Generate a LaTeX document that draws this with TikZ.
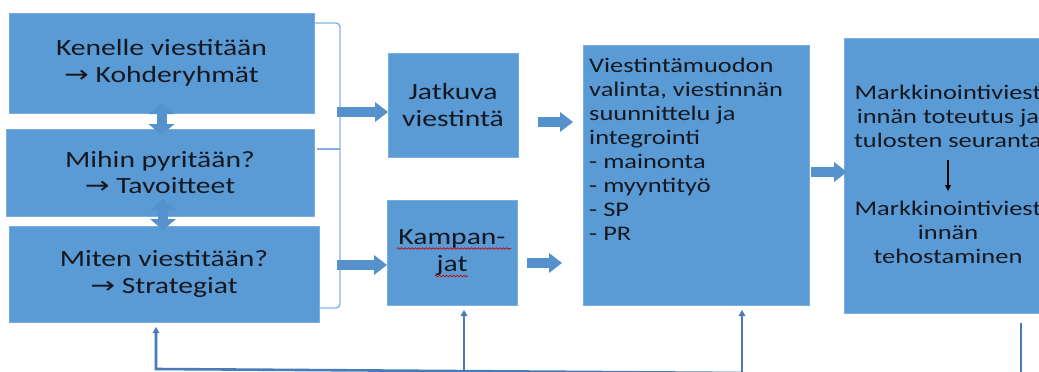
\documentclass[tikz,border=0pt]{standalone}
\usepackage{fontspec}
\setmainfont{Carlito}[FakeStretch=1.27]
\newfontfamily\arrfont{DejaVu Sans}[FakeStretch=1.27]
\usepackage{tikz}
\usetikzlibrary{arrows.meta,decorations.pathmorphing,positioning}
\definecolor{boxblue}{RGB}{91,155,213}
\definecolor{boxedge}{RGB}{122,174,224}
\definecolor{arrowblue}{RGB}{84,145,205}
\definecolor{bracketblue}{RGB}{132,177,226}
\definecolor{feedblue}{RGB}{72,123,186}
\definecolor{inktext}{RGB}{20,24,32}
\newcommand{\bigtxt}{\fontsize{23.3}{26.5}\selectfont}
\newcommand{\smalltxt}{\fontsize{20.8}{24}\selectfont}
\newcommand{\arr}{{\arrfont →}}
\tikzstyle{bluebox} = [draw=boxedge, fill=boxblue, line width=0.8pt, rectangle,
    inner sep=0pt, outer sep=0pt, align=center, text=inktext, font=\bigtxt]
\tikzstyle{boxtext} = [inner sep=0pt, text=inktext, font=\smalltxt]
\tikzstyle{blockarrow} = [draw=arrowblue, line width=10pt,
    -{Triangle[width=20pt,length=13pt,line width=0pt]}]
\tikzstyle{dblarrow} = [draw=arrowblue, line width=10pt,
    {Triangle[width=26pt,length=11pt,line width=0pt]}-{Triangle[width=26pt,length=11pt,line width=0pt]}]
\tikzstyle{bracket} = [draw=bracketblue, line width=1.3pt]
\tikzstyle{feedline} = [draw=feedblue, line width=2.6pt]
\tikzstyle{feedarrow} = [feedline, -{Triangle[width=7pt,length=6pt,line width=0pt]}]
\tikzstyle{squiggle} = [draw=red!80!black, line width=0.7pt, decorate,
    decoration={snake, amplitude=0.8pt, segment length=3.5pt}]

\begin{document}
\begin{tikzpicture}[x=1pt, y=-1pt]
                \useasboundingbox (0,0) rectangle (1039,372);
                \clip (0,0) rectangle (1039,372);
                \fill[white] (0,0) rectangle (1039,372);

                \node[bluebox, minimum width=305pt, minimum height=100pt] (ken) at (161.5,63) {Kenelle viestitään\\\arr\ Kohderyhmät};
                \node[bluebox, minimum width=308pt, minimum height=87pt] (mih) at (160,172.5) {Mihin pyritään?\\\arr\ Tavoitteet};
                \node[bluebox, minimum width=310pt, minimum height=96pt] (mit) at (164,274) {Miten viestitään?\\\arr\ Strategiat};
                \node[bluebox, minimum width=130pt, minimum height=104pt] (jat) at (453,105) {Jatkuva\\viestintä};
                \node[bluebox, minimum width=130pt, minimum height=105pt] (kam) at (452,252.5) {Kampan-\\jat};
                \node[bluebox, minimum width=226pt, minimum height=260pt] (vie) at (696,175) {};
                \node[bluebox, minimum width=208pt, minimum height=275pt] (mar) at (948,175.5) {};

                \node[boxtext, anchor=north west, align=left] (vietxt) at ([xshift=6pt,yshift=-13pt]vie.north west)
                    {Viestintämuodon\\valinta, viestinnän\\suunnittelu ja\\integrointi\\- mainonta\\- myyntityö\\- SP\\- PR};
                \node[boxtext, align=center] (mtop) at ([yshift=59.5pt]mar.center) {Markkinointiviest\\innän toteutus ja\\tulosten seuranta};
                \node[boxtext, align=center] (mbot) at ([yshift=-57pt]mar.center) {Markkinointiviest\\innän\\tehostaminen};
                \draw[line width=1.1pt, -{Triangle[width=6pt,length=6pt,line width=0pt]}, shorten <=13pt, shorten >=10pt] (mtop) -- (mbot);

                \draw[squiggle] ([xshift=-55pt,yshift=4pt]kam.center) -- ++(114,0);
                \draw[squiggle] ([xshift=-17pt,yshift=-23.5pt]kam.center) -- ++(33,0);

                \coordinate (brk) at (340,149);
                \draw[bracket, rounded corners=4pt] ([yshift=-10pt]ken.north east) -| (brk) |- ([yshift=14pt]mit.south east);
                \draw[bracket] ([xshift=3pt]mih.east |- brk) -- (brk);

                \draw[dblarrow, shorten <=-10pt, shorten >=-6pt] (ken.south) -- (ken.south |- mih.north);
                \draw[dblarrow, shorten <=-17pt, shorten >=-4pt] ([xshift=3pt]mih.south) -- ([xshift=3pt]mih.south |- mit.north);

                \coordinate (a1) at (337,112);
                \coordinate (a2) at (337,265);
                \draw[blockarrow] (a1) -- (a1 -| jat.west);
                \draw[blockarrow] (a2) -- (a2 -| kam.west);
                \draw[blockarrow, shorten <=20pt, shorten >=10pt] ([yshift=-17pt]jat.east) -- ([yshift=-17pt]jat.east -| vie.west);
                \draw[blockarrow, shorten <=10pt, shorten >=21pt] ([yshift=-10.5pt]kam.east) -- ([yshift=-10.5pt]kam.east -| vie.west);
                \draw[blockarrow, shorten <=2pt, shorten >=-3pt] ([yshift=3pt]vie.east) -- ([yshift=3pt]vie.east -| mar.west);

                \coordinate (fb1) at (156,369);
                \coordinate (fb2) at (464,371.1);
                \coordinate (fb3) at (742,373);
                \coordinate (fb4) at (1021,385);
                \draw[feedarrow, shorten >=5pt] (fb3) -- (fb1) -- (fb1 |- mit.south);
                \draw[feedarrow, shorten >=5pt] (fb2) -- (fb2 |- kam.south);
                \draw[feedarrow, shorten >=5pt] (fb3) -- (fb3 |- vie.south);
                \draw[feedline, shorten >=10pt] (fb4) -- (fb4 |- mar.south);
\end{tikzpicture}
\end{document}
